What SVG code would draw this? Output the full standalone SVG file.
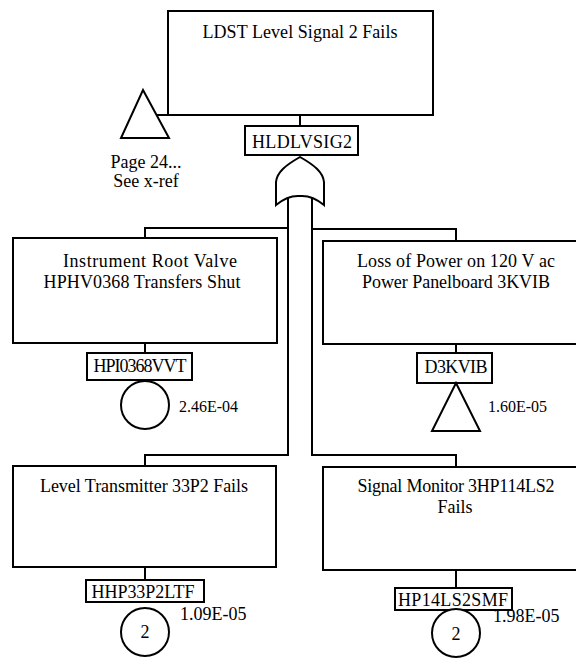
<svg xmlns="http://www.w3.org/2000/svg" width="576" height="658" viewBox="0 0 576 658">
  <style>
    .box { fill: #fff; stroke: #000; stroke-width: 2; }
    .line { fill: none; stroke: #000; stroke-width: 2; }
    .t { font-family: "Liberation Serif", "Times New Roman", serif; font-size: 18px; fill: #000; text-anchor: middle; }
    .id { font-family: "Liberation Serif", "Times New Roman", serif; font-size: 18px; fill: #000; text-anchor: middle; }
    .p { font-family: "Liberation Serif", "Times New Roman", serif; font-size: 18px; fill: #000; }
    .s { font-size: 16px; }
  </style>
  <rect width="576" height="658" fill="#fff"/>

  <!-- connectors -->
  <g id="connectors">
    <line class="line" x1="300" y1="115" x2="300" y2="126"/>
    <line class="line" x1="157" y1="115" x2="168" y2="115"/>
    <polyline class="line" points="288,197 288,228 145,228 145,238"/>
    <polyline class="line" points="312,197 312,229 456,229 456,241"/>
    <polyline class="line" points="288,228 288,455 145,455 145,466"/>
    <polyline class="line" points="312,229 312,455 456,455 456,467"/>
    <line class="line" x1="145" y1="343" x2="145" y2="353"/>
    <line class="line" x1="456" y1="344" x2="456" y2="353"/>
    <line class="line" x1="145" y1="567" x2="145" y2="580"/>
    <line class="line" x1="456" y1="570" x2="456" y2="588"/>
  </g>

  <!-- top event -->
  <g id="top">
    <rect class="box" x="168" y="11" width="265" height="104"/>
    <text class="t" x="300" y="38" textLength="195">LDST Level Signal 2 Fails</text>
    <rect class="box" x="245" y="126" width="113" height="29"/>
    <text class="id" x="302" y="148" textLength="100">HLDLVSIG2</text>
  </g>

  <!-- transfer to page 24 -->
  <g id="xref">
    <polygon class="box" points="143,90 169,138 121,138"/>
    <text class="id" x="146" y="168">Page 24...</text>
    <text class="id" x="146" y="187">See x-ref</text>
  </g>

  <!-- OR gate -->
  <g id="or-gate">
    <path class="box" d="M300,157 C286,165 277,172 276,182 L276,205 Q288,195 300,196 Q312,195 324,205 L324,182 C323,172 314,165 300,157 Z"/>
  </g>

  <!-- instrument root valve -->
  <g id="valve">
    <rect class="box" x="13" y="238" width="264" height="105"/>
    <text class="t" x="150" y="267" textLength="174">Instrument Root Valve</text>
    <text class="t" x="142" y="288" textLength="197">HPHV0368 Transfers Shut</text>
    <rect class="box" x="87" y="353" width="105" height="27"/>
    <text class="id" x="140" y="372" textLength="93">HPI0368VVT</text>
    <circle class="box" cx="145" cy="405" r="24"/>
    <text class="p s" x="179" y="412">2.46E-04</text>
  </g>

  <!-- loss of power -->
  <g id="power">
    <rect class="box" x="323" y="241" width="260" height="103"/>
    <text class="t" x="456" y="267" textLength="198">Loss of Power on 120 V ac</text>
    <text class="t" x="456" y="288" textLength="188">Power Panelboard 3KVIB</text>
    <rect class="box" x="417" y="353" width="75" height="30"/>
    <text class="id" x="456" y="373" textLength="63">D3KVIB</text>
    <polygon class="box" points="456,383 480,431 432,431"/>
    <text class="p s" x="488" y="412">1.60E-05</text>
  </g>

  <!-- level transmitter -->
  <g id="transmitter">
    <rect class="box" x="13" y="466" width="263" height="101"/>
    <text class="t" x="144" y="492" textLength="208">Level Transmitter 33P2 Fails</text>
    <rect class="box" x="86" y="580" width="118" height="22"/>
    <text class="id" x="143" y="598" textLength="103">HHP33P2LTF</text>
    <circle class="box" cx="145" cy="632" r="24"/>
    <text class="id" x="145" y="638">2</text>
    <text class="p" x="180" y="620">1.09E-05</text>
  </g>

  <!-- signal monitor -->
  <g id="monitor">
    <rect class="box" x="323" y="467" width="260" height="103"/>
    <text class="t" x="456" y="492" textLength="197">Signal Monitor 3HP114LS2</text>
    <text class="t" x="455" y="513">Fails</text>
    <rect class="box" x="395" y="588" width="117" height="22"/>
    <text class="id" x="453" y="606" textLength="110">HP14LS2SMF</text>
    <circle class="box" cx="456" cy="633" r="24"/>
    <text class="id" x="456" y="640">2</text>
    <text class="p" x="493" y="622">1.98E-05</text>
  </g>
</svg>
